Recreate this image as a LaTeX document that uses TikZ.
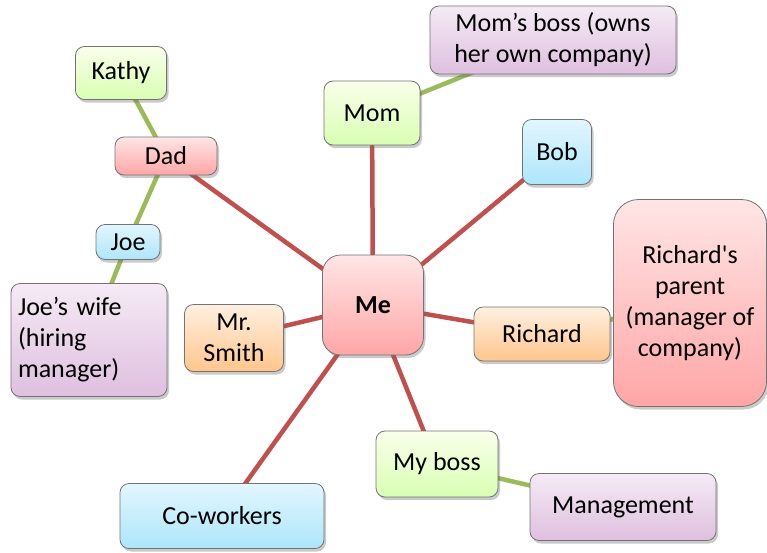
\documentclass[tikz,border=0pt]{standalone}
\usepackage{fontspec}
\newfontfamily\diagfont{Carlito}
\usetikzlibrary{shadows,backgrounds}

\definecolor{linkred}{HTML}{C0504D}
\definecolor{linkgreen}{HTML}{9BBB59}
\definecolor{skytop}{HTML}{E2F6FF}
\definecolor{skybot}{HTML}{ADE6FA}

\begin{document}
\begin{tikzpicture}[x=1pt, y=-1pt,
        box/.style={rectangle, draw=black!55, line width=0.8pt, rounded corners=9pt, align=center,
            font=\diagfont\fontsize{26}{31}\selectfont, inner sep=2pt,
            drop shadow={shadow xshift=2pt, shadow yshift=-3pt, opacity=0.35, fill=black!60}},
        pinkbox/.style={box, top color=red!10, bottom color=red!35},
        greenbox/.style={box, top color=green!30!yellow!8, bottom color=green!50!yellow!30},
        bluebox/.style={box, top color=skytop, bottom color=skybot},
        purplebox/.style={box, top color=violet!8, bottom color=violet!25},
        orangebox/.style={box, top color=orange!12, bottom color=orange!45},
        redlink/.style={line width=4.5pt, linkred},
        greenlink/.style={line width=4.5pt, linkgreen}
    ]
        \useasboundingbox (0,0) rectangle (767,552);

        % Centre
        \node[pinkbox, minimum width=101pt, minimum height=100pt, rounded corners=18pt, font=\diagfont\fontsize{26}{31}\selectfont\bfseries] (me) at (373,305) {Me};

        % Dad side
        \node[greenbox, minimum width=91pt, minimum height=53pt] (kathy) at (121,73) {Kathy};
        \node[pinkbox, minimum width=102pt, minimum height=38pt] (dad) at (166,156) {Dad};
        \node[bluebox, minimum width=64pt, minimum height=35pt] (joe) at (128,242) {Joe};
        \node[purplebox, minimum width=156pt, minimum height=113pt, align=left, text width=142pt] (joewife) at (89,340) {Joe’s wife\\(hiring\\manager)};

        % Mom side
        \node[greenbox, minimum width=96pt, minimum height=64pt] (mom) at (372,113) {Mom};
        \node[purplebox, minimum width=246pt, minimum height=68pt] (momboss) at (553,40) {Mom’s boss (owns\\her own company)};

        % Others
        \node[bluebox, minimum width=69pt, minimum height=65pt] (bob) at (557,152) {Bob};
        \node[orangebox, minimum width=99pt, minimum height=67pt] (smith) at (234,338) {Mr.\\Smith};
        \node[orangebox, minimum width=136pt, minimum height=54pt] (richard) at (542,334) {Richard};
        \node[pinkbox, minimum width=153pt, minimum height=207pt, rounded corners=25pt] (rparent) at (690,303) {Richard's\\parent\\(manager of\\company)};
        \node[greenbox, minimum width=122pt, minimum height=66pt] (myboss) at (437,464) {My boss};
        \node[purplebox, minimum width=186pt, minimum height=67pt] (mgmt) at (623,507) {Management};
        \node[bluebox, minimum width=204pt, minimum height=65pt] (coworkers) at (222,516) {Co-workers};

        % Connections
        \begin{scope}[on background layer]
            \draw[redlink] (me.center) -- (dad.center);
            \draw[redlink] (me.center) -- (mom.center);
            \draw[redlink] (me.center) -- (bob.center);
            \draw[redlink] (me.center) -- (smith.center);
            \draw[redlink] (me.center) -- (richard.center);
            \draw[redlink] (me.center) -- (myboss.center);
            \draw[redlink] (me.center) -- (coworkers.center);
            \draw[greenlink] (kathy.center) -- (dad.center);
            \draw[greenlink] (dad.center) -- (joe.center);
            \draw[greenlink] (joe.center) -- (joewife.center);
            \draw[greenlink] (mom.center) -- (momboss.center);
            \draw[greenlink] (richard.center) -- (rparent.center);
            \draw[greenlink] (myboss.center) -- (mgmt.center);
        \end{scope}

    \end{tikzpicture}
\end{document}
